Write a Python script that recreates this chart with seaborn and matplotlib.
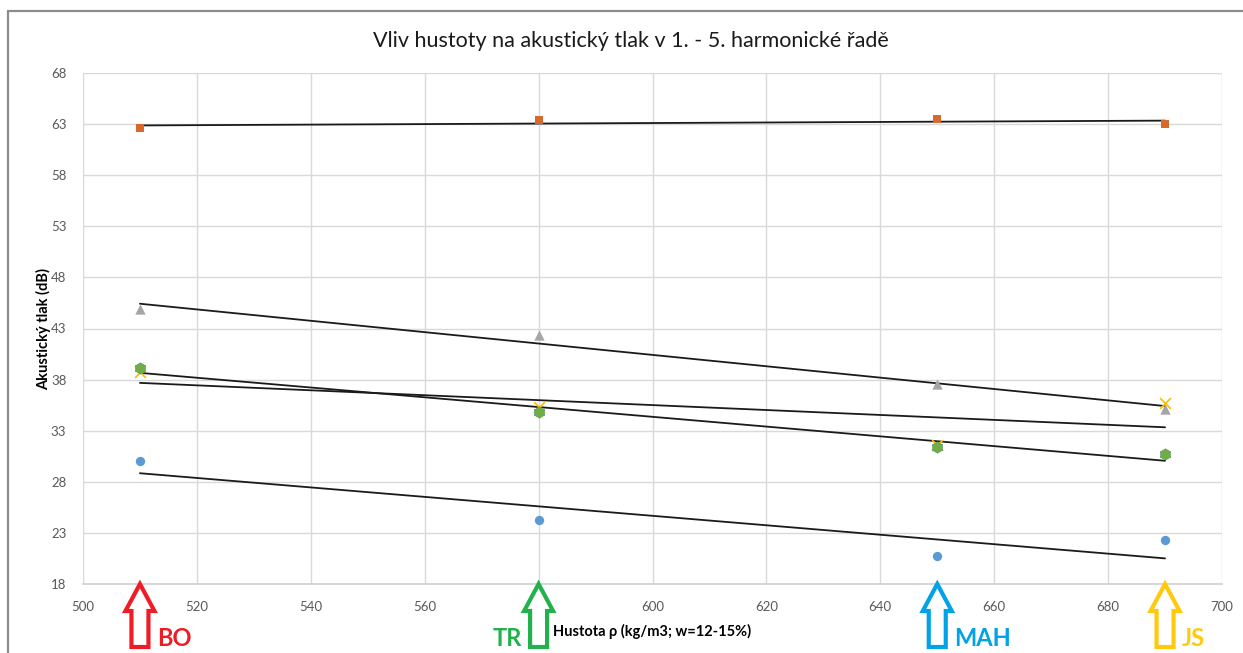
import numpy as np
import pandas as pd
import matplotlib
matplotlib.use("Agg")
import matplotlib.pyplot as plt
import matplotlib.transforms as mtransforms
from matplotlib.patches import Polygon, Rectangle
import seaborn as sns

# Wood density (kg/m3) for the four species
density = [510, 580, 650, 690]
species = ["BO", "TR", "MAH", "JS"]
species_colors = ["#EE1C25", "#22B14C", "#00A2E8", "#FFC90E"]

# Sound pressure level (dB) for each harmonic series
h1 = [30.0, 24.3, 20.7, 22.3]
h2 = [62.6, 63.4, 63.5, 63.0]
h3 = [44.9, 42.4, 37.6, 35.1]
h4 = [38.7, 35.3, 31.6, 35.7]
h5 = [39.1, 34.8, 31.4, 30.7]
h5b = [39.1, 34.8, 31.4, 30.7]

series_names = ["1. harmonická", "2. harmonická", "3. harmonická",
                "4. harmonická", "5. harmonická", "5. harmonická (průměr)"]
series_values = [h1, h2, h3, h4, h5, h5b]
series_colors = ["#5B9BD5", "#D9692A", "#A5A5A5", "#FFC000", "#4472C4", "#70AD47"]
series_markers = ["o", "s", "^", "x", (6, 2, 0), "o"]
series_sizes = [45, 38, 55, 60, 50, 60]

y_ticks = [18, 23, 28, 33, 38, 43, 48, 53, 58, 63, 68]
x_ticks = [500, 520, 540, 560, 580, 600, 620, 640, 660, 680, 700]

df = pd.DataFrame({
    "hustota": np.tile(density, len(series_names)),
    "tlak": np.concatenate(series_values),
    "rada": np.repeat(series_names, len(density)),
})

sns.set_style("white")
plt.rcParams["font.family"] = ["Lato", "DejaVu Sans"]

W, H = 1243, 653
fig = plt.figure(figsize=(W / 100, H / 100), dpi=100)
ax = fig.add_axes([83 / W, 1 - 584 / H, (1222 - 83) / W, (584 - 73) / H])

# Outer chart frame
fig.patches.append(Rectangle((8 / W, -0.1), 1.2, 1 - 11 / H + 0.1,
                             transform=fig.transFigure, fill=False,
                             edgecolor="#8C8C8C", linewidth=1.6, zorder=0))

# Linear trend lines
for name in series_names[:5]:
    sub = df[df["rada"] == name]
    sns.regplot(data=sub, x="hustota", y="tlak", ax=ax, scatter=False,
                ci=None, truncate=True,
                line_kws={"color": "#1A1A1A", "linewidth": 1.3, "zorder": 2})

# Data points
for name, col, mk, sz in zip(series_names, series_colors, series_markers, series_sizes):
    sub = df[df["rada"] == name]
    if mk == "x" or isinstance(mk, tuple):
        sns.scatterplot(data=sub, x="hustota", y="tlak", ax=ax, marker=mk,
                        color=col, s=sz, linewidth=1.3, legend=False, zorder=3)
    else:
        sns.scatterplot(data=sub, x="hustota", y="tlak", ax=ax, marker=mk,
                        color=col, s=sz, linewidth=0, legend=False, zorder=3)

ax.set_xlim(500, 700)
ax.set_ylim(18, 68)
ax.set_xticks(x_ticks)
ax.set_yticks(y_ticks)
ax.grid(True, color="#D9D9D9", linewidth=1.0)
ax.set_axisbelow(True)
for side in ["top", "right", "left"]:
    ax.spines[side].set_visible(False)
ax.spines["bottom"].set_color("#D0D0D0")
ax.spines["bottom"].set_linewidth(1.2)
ax.tick_params(axis="both", length=0, labelsize=9.5, labelcolor="#595959")
ax.tick_params(axis="y", pad=12)
ax.tick_params(axis="x", pad=12)

ax.set_title("Vliv hustoty na akustický tlak v 1. - 5. harmonické řadě",
             fontsize=15.5, color="#1A1A1A", pad=19, x=0.481)
ax.set_ylabel("Akustický tlak (dB)", fontsize=10.5, fontweight="bold",
              color="#000000", labelpad=0)
ax.set_xlabel("Hustota ρ (kg/m3; w=12-15%)", fontsize=10.5, fontweight="bold",
              color="#000000", labelpad=8)

# Hollow arrows marking each species below the axis
base = mtransforms.blended_transform_factory(ax.transData, ax.transAxes)
hw, hl, sw, L = 0.145, 0.27, 0.085, 0.63
arrow_pts = [(0, 0), (hw, -hl), (sw, -hl), (sw, -L), (-sw, -L), (-sw, -hl), (-hw, -hl)]
for xv, name, col in zip(density, species, species_colors):
    tr = fig.dpi_scale_trans + mtransforms.ScaledTranslation(xv, 0, base)
    poly = Polygon(arrow_pts, closed=True, transform=tr, facecolor="white",
                   edgecolor=col, linewidth=3.0, clip_on=False, zorder=5)
    fig.patches.append(poly)
    if name == "TR":
        off, ha = -0.17, "right"
    else:
        off, ha = 0.17, "left"
    ttr = fig.dpi_scale_trans + mtransforms.ScaledTranslation(xv, 0, base)
    fig.text(off, -L + 0.01, name, transform=ttr, ha=ha, va="baseline",
             fontsize=17, color=col, fontweight="bold")

fig.savefig("out.png", dpi=100)
